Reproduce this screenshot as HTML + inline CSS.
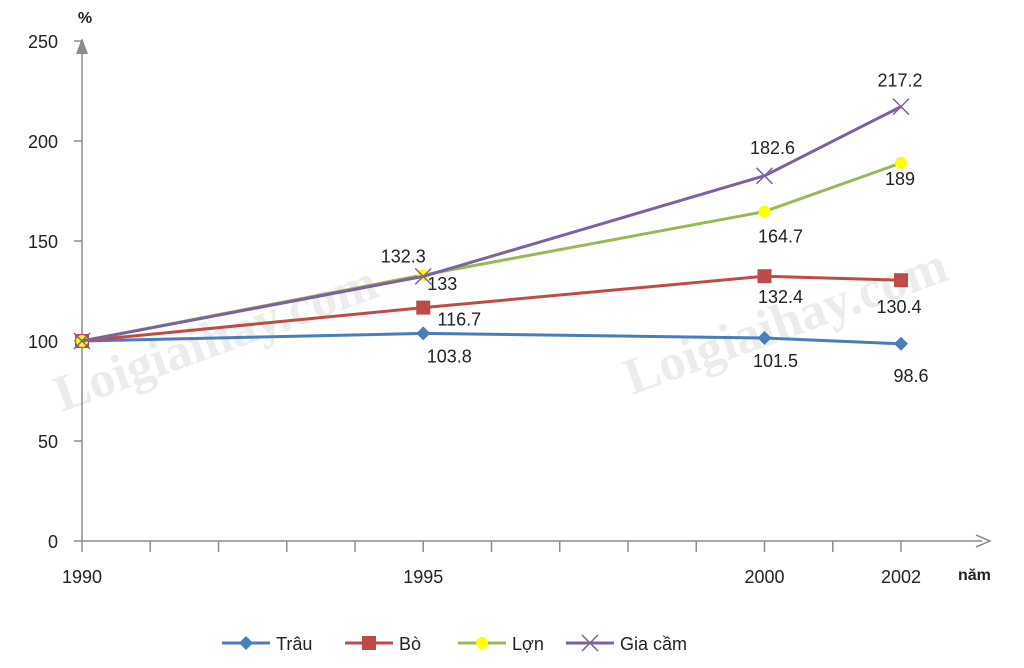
<!DOCTYPE html>
<html><head><meta charset="utf-8"><style>
body{margin:0;background:#fff;}
svg{display:block;font-family:"Liberation Sans",sans-serif;}
</style></head><body>
<svg id="chart" width="1024" height="668" viewBox="0 0 1024 668">
<text x="62" y="412" transform="rotate(-20 62 412)" font-family="Liberation Serif" font-size="52" font-weight="bold" fill="#ececec">Loigiaihay.com</text>
<text x="632" y="395" transform="rotate(-20 632 395)" font-family="Liberation Serif" font-size="52" font-weight="bold" fill="#ececec">Loigiaihay.com</text>
<g id="axes"></g><g id="series"></g><g id="legend"></g>
</svg>
<script>
const years=[1990,1995,2000,2002];
const yTicks=[0,50,100,150,200,250];
const names=["Trâu","Bò","Lợn","Gia cầm"];
const trau=[100,103.8,101.5,98.6];
const bo=[100,116.7,132.4,130.4];
const lon=[100,133,164.7,189];
const giacam=[100,132.3,182.6,217.2];
const colors=["#4a7ebb","#be4b48","#98b954","#7d60a0"];
const ns="http://www.w3.org/2000/svg";
const X=y=>82+(y-1990)*68.25;
const Y=v=>541-v*2;
function mk(t,a,p){const e=document.createElementNS(ns,t);for(const k in a)e.setAttribute(k,a[k]);p.appendChild(e);return e;}
const ax=document.getElementById('axes');
let e=mk('line',{x1:82,y1:541,x2:82,y2:48,stroke:'#8c8c8c','stroke-width':1.5},ax);


e=mk('polygon',{points:'82,38 76,54 88,54',fill:'#8c8c8c'},ax);


e=mk('line',{x1:82,y1:541,x2:982,y2:541,stroke:'#8c8c8c','stroke-width':1.5},ax);


e=mk('polyline',{points:'976,535 990,541 976,547',fill:'none',stroke:'#8c8c8c','stroke-width':1.5},ax);


yTicks.forEach(v=>{
  let l=mk('line',{x1:74,y1:Y(v),x2:82,y2:Y(v),stroke:'#8c8c8c','stroke-width':1.5},ax);
  
  
  let t=mk('text',{x:58,y:Y(v)+7,'text-anchor':'end','font-size':18,fill:'#222'},ax);t.textContent=v;
  
  
});
for(let yr=1990;yr<=2002;yr++){
  let l=mk('line',{x1:X(yr),y1:541,x2:X(yr),y2:552,stroke:'#8c8c8c','stroke-width':1.5},ax);
  
  
}
years.forEach(yr=>{
  let t=mk('text',{x:X(yr),y:583,'text-anchor':'middle','font-size':18,fill:'#222'},ax);t.textContent=yr;
  
  
});
let t=mk('text',{x:85,y:23,'text-anchor':'middle','font-size':16,'font-weight':'bold',fill:'#222'},ax);t.textContent='%';


t=mk('text',{x:958,y:580,'font-size':16,'font-weight':'bold',fill:'#222'},ax);t.textContent='năm';


function marker(i,x,y,p){
  let m;
  if(i==0)m=mk('polygon',{points:`${x},${y-7} ${x+7},${y} ${x},${y+7} ${x-7},${y}`,fill:colors[0]},p);
  else if(i==1)m=mk('rect',{x:x-7,y:y-7,width:14,height:14,fill:colors[1]},p);
  else if(i==2)m=mk('circle',{cx:x,cy:y,r:6,fill:'#ffff00'},p);
  else m=mk('path',{d:`M${x-8},${y-8}L${x+8},${y+8}M${x+8},${y-8}L${x-8},${y+8}`,stroke:colors[3],'stroke-width':1.5,fill:'none'},p);
  
  
}
const sg=document.getElementById('series');
const all=[trau,bo,lon,giacam];
const offs=[[[0,0],[26,29],[11,29],[10,38]],[[0,0],[36,18],[16,27],[-2,33]],[[0,0],[19,15],[16,31],[-1,22]],[[0,0],[-20,-14],[8,-22],[-1,-20]]];
all.forEach((vals,i)=>{
  let g=mk('g',{},sg);
  
  
  let pl=mk('polyline',{points:vals.map((v,k)=>X(years[k])+','+Y(v)).join(' '),fill:'none',stroke:colors[i],'stroke-width':3},g);
  
  
  vals.forEach((v,k)=>{
    marker(i,X(years[k]),Y(v),g);
    if(k>0){
      let tx=mk('text',{x:X(years[k])+offs[i][k][0],y:Y(v)+offs[i][k][1],'text-anchor':'middle','font-size':18,fill:'#222'},g);
      tx.textContent=v;
      
      
    }
  });
});
const lg=document.getElementById('legend');
const lx=[222,345,458,566];
names.forEach((n,i)=>{
  let g=mk('g',{},lg);
  
  
  let l=mk('line',{x1:lx[i],y1:643,x2:lx[i]+48,y2:643,stroke:colors[i],'stroke-width':3},g);
  
  
  marker(i,lx[i]+24,643,g);
  let tx=mk('text',{x:lx[i]+54,y:650,'font-size':18,fill:'#222'},g);tx.textContent=n;
  
  
});
</script>
</body></html>
